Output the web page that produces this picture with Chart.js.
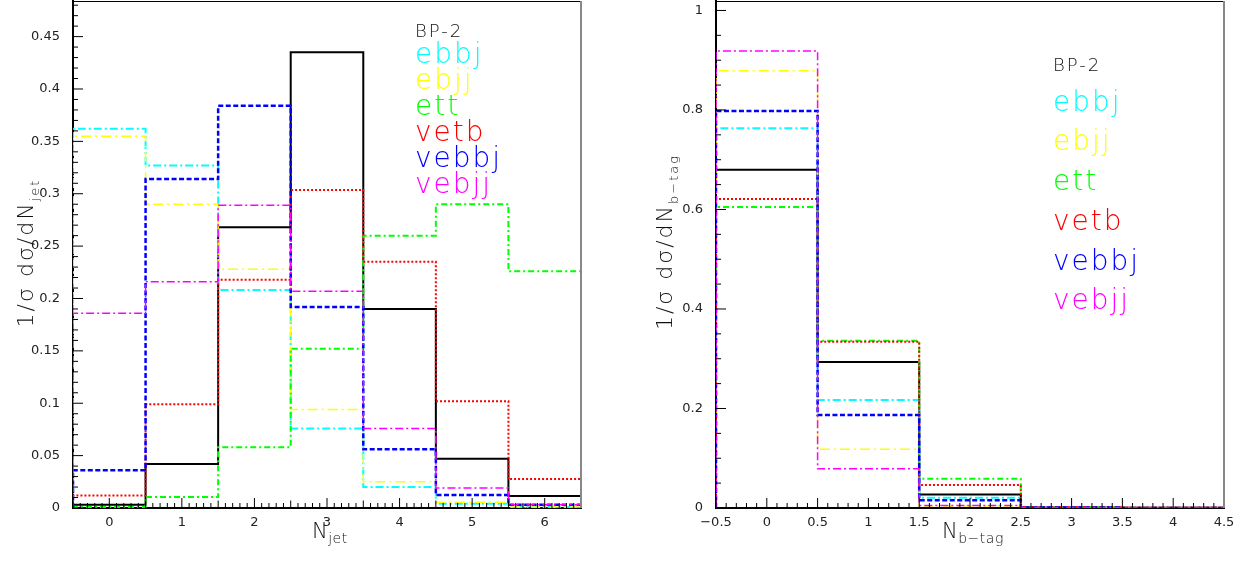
<!DOCTYPE html>
<html>
<head>
<meta charset="utf-8">
<script src="https://cdn.jsdelivr.net/npm/chart.js@4.4.0/dist/chart.umd.min.js"></script>
<style>
  html, body { margin: 0; padding: 0; background: #fff; }
  .panel { position: absolute; top: 0; width: 620px; height: 563px; }
  #p1 { left: 0; }
  #p2 { left: 625px; }
</style>
</head>
<body>
<div class="panel" id="p1"><canvas id="cJet" width="620" height="563"></canvas></div>
<div class="panel" id="p2"><canvas id="cTag" width="620" height="563"></canvas></div>
<script>
"use strict";

// --- data ---------------------------------------------------------------------
const SAMPLES = ["BP-2", "ebbj", "ebjj", "ett", "vetb", "vebbj", "vebjj"];

// N_jet (bin centres 0..6)
const jetBins  = [0, 1, 2, 3, 4, 5, 6];
const jetBP2   = [0.003, 0.042, 0.268, 0.435, 0.190, 0.047, 0.0114];
const jetEbbj  = [0.362, 0.327, 0.208, 0.076, 0.020, 0.004, 0.001];
const jetEbjj  = [0.355, 0.290, 0.228, 0.094, 0.025, 0.0054, 0.001];
const jetEtt   = [0.001, 0.0105, 0.058, 0.152, 0.260, 0.290, 0.226];
const jetVetb  = [0.012, 0.099, 0.218, 0.3035, 0.235, 0.102, 0.0276];
const jetVebbj = [0.036, 0.314, 0.384, 0.192, 0.056, 0.0124, 0.003];
const jetVebjj = [0.186, 0.216, 0.289, 0.207, 0.076, 0.019, 0.003];
const jetXTicks = [0, 1, 2, 3, 4, 5, 6];
const jetYTicks = [0, 0.05, 0.1, 0.15, 0.2, 0.25, 0.3, 0.35, 0.4, 0.45];

// N_b-tag (bin centres 0..4)
const tagBins  = [0, 1, 2, 3, 4];
const tagBP2   = [0.680, 0.2936, 0.027, 0.001, 0.0005];
const tagEbbj  = [0.763, 0.217, 0.0205, 0.001, 0];
const tagEbjj  = [0.879, 0.118, 0.004, 0.0005, 0];
const tagEtt   = [0.605, 0.336, 0.059, 0.002, 0];
const tagVetb  = [0.621, 0.334, 0.046, 0.002, 0.001];
const tagVebbj = [0.798, 0.187, 0.0157, 0.001, 0];
const tagVebjj = [0.9187, 0.0787, 0.005, 0.001, 0];
const tagXTicks = [-0.5, 0, 0.5, 1, 1.5, 2, 2.5, 3, 3.5, 4, 4.5];
const tagYTicks = [0, 0.2, 0.4, 0.6, 0.8, 1];

// --- styles -------------------------------------------------------------------
const STYLE = {
  "BP-2": { color: "#000000", width: 2,   dash: [] },
  ebbj:   { color: "#00ffff", width: 2,   dash: [8, 3, 2, 3] },
  ebjj:   { color: "#ffff00", width: 1.5, dash: [10, 4, 2, 4] },
  ett:    { color: "#00ff00", width: 2,   dash: [6, 3, 2, 3] },
  vetb:   { color: "#ff0000", width: 2,   dash: [2, 2] },
  vebbj:  { color: "#0000ff", width: 2.5, dash: [5, 2.5] },
  vebjj:  { color: "#ff00ff", width: 1.5, dash: [8, 3, 2, 3] }
};
const FONT = "'DejaVu Sans', 'Liberation Sans', sans-serif";

// histogram outline: points at bin edges; stepped 'before' = horizontal first
function histPoints(bins, vals) {
  const pts = [{ x: bins[0] - 0.5, y: 0 }];
  bins.forEach((b, i) => pts.push({ x: b + 0.5, y: vals[i] }));
  pts.push({ x: bins[bins.length - 1] + 0.5, y: 0 });
  return pts;
}
function mkDatasets(bins, series) {
  // ROOT draws BP-2 first; in Chart.js index 0 ends on top, so reverse
  return SAMPLES.map((name, i) => {
    const s = STYLE[name];
    return {
      label: name, data: histPoints(bins, series[i]),
      stepped: "after", borderColor: s.color, borderWidth: s.width,
      borderDash: s.dash, pointRadius: 0, fill: false, tension: 0
    };
  }).reverse();
}
function fmt(v) {
  const n = +(+v).toFixed(3);
  return (n < 0 ? "\u2212" : "") + String(Math.abs(n));
}

// --- ROOT-like frame, inner ticks, titles, text legend -------------------------
function innerTicks(ctx, scale, horiz, a, minor, medium, major) {
  const k0 = Math.ceil(scale.min / minor - 1e-6), k1 = Math.floor(scale.max / minor + 1e-6);
  ctx.beginPath();
  for (let k = k0; k <= k1; k++) {
    const v = k * minor;
    const isMaj = Math.abs(v / major - Math.round(v / major)) < 1e-6;
    const isMed = medium && Math.abs(v / medium - Math.round(v / medium)) < 1e-6;
    const len = isMaj ? 10 : (isMed ? 7.5 : 5);
    const p = scale.getPixelForValue(v);
    if (horiz) { ctx.moveTo(p, a.bottom); ctx.lineTo(p, a.bottom - len); }
    else { ctx.moveTo(a.left, p); ctx.lineTo(a.left + len, p); }
  }
  ctx.stroke();
}
function subText(ctx, main, sub, x, y, mainSize, subSize, spacing, center) {
  ctx.letterSpacing = spacing + "px";
  ctx.font = "200 " + mainSize + "px " + FONT;
  const w1 = ctx.measureText(main).width;
  ctx.font = "200 " + subSize + "px " + FONT;
  const w2 = ctx.measureText(sub).width;
  let x0 = center ? x - (w1 + w2) / 2 : x;
  ctx.font = "200 " + mainSize + "px " + FONT;
  ctx.fillText(main, x0, y);
  ctx.font = "200 " + subSize + "px " + FONT;
  ctx.fillText(sub, x0 + w1, y + mainSize * 0.25);
}
const rootFrame = {
  id: "rootFrame",
  afterDatasetsDraw(chart, args, o) {
    const { ctx, chartArea: a, scales: { x, y } } = chart;
    ctx.save();
    ctx.strokeStyle = "#000"; ctx.lineWidth = 1;
    innerTicks(ctx, x, true, a, o.xMinor, o.xMedium, o.xMajor);
    innerTicks(ctx, y, false, a, o.yMinor, 0, o.yMajor);
    ctx.beginPath(); ctx.moveTo(a.left, a.top + 0.5); ctx.lineTo(a.right, a.top + 0.5); ctx.stroke();
    ctx.strokeStyle = "#888"; ctx.lineWidth = 2;
    ctx.beginPath(); ctx.moveTo(a.right, a.top); ctx.lineTo(a.right, a.bottom); ctx.stroke();
    ctx.restore();
  },
  afterDraw(chart, args, o) {
    const ctx = chart.ctx;
    ctx.save();
    ctx.fillStyle = "#111"; ctx.textBaseline = "alphabetic";
    // x title
    subText(ctx, "N", o.xSub, o.xTitle[0], o.xTitle[1], 21, 14, 0.5, false);
    // y title (rotated)
    ctx.save();
    ctx.translate(o.yTitle[0], o.yTitle[1]);
    ctx.rotate(-Math.PI / 2);
    subText(ctx, "1/\u03c3 d\u03c3/dN", o.ySub, 0, 0, 22, 13, 2, true);
    ctx.restore();
    // text legend
    const lg = o.legend;
    SAMPLES.forEach((name, i) => {
      ctx.letterSpacing = i === 0 ? "2px" : "2px";
      ctx.font = "200 " + (i === 0 ? 18 : 28) + "px " + FONT;
      ctx.fillStyle = i === 0 ? "#111" : STYLE[name].color;
      ctx.fillText(name, lg.x, lg.y[i]);
    });
    ctx.restore();
  }
};

function mkChart(id, bins, series, xr, yr, xTicks, yTicks, yWidth, padRight, frame) {
  return new Chart(document.getElementById(id), {
    type: "line",
    data: { datasets: mkDatasets(bins, series) },
    plugins: [rootFrame],
    options: {
      responsive: false, animation: false,
      layout: { padding: { top: 1, right: padRight, left: 0, bottom: 0 }, autoPadding: false },
      plugins: { legend: { display: false }, tooltip: { enabled: false }, rootFrame: frame },
      scales: {
        x: {
          type: "linear", min: xr[0], max: xr[1],
          grid: { display: false, drawTicks: false },
          border: { display: true, color: "#000", width: 2 },
          ticks: { padding: 7, color: "#222", font: { family: FONT, size: 13 }, callback: fmt, maxRotation: 0 },
          afterBuildTicks: (s) => { s.ticks = xTicks.map((v) => ({ value: v })); },
          afterFit: (s) => { s.height = 55; s.paddingLeft = 0; s.paddingRight = 0; }
        },
        y: {
          type: "linear", min: yr[0], max: yr[1],
          grid: { display: false, drawTicks: false },
          border: { display: true, color: "#000", width: 2 },
          ticks: { padding: 13, color: "#222", font: { family: FONT, size: 13 }, callback: fmt },
          afterBuildTicks: (s) => { s.ticks = yTicks.map((v) => ({ value: v })); },
          afterFit: (s) => { s.width = yWidth; s.paddingTop = 0; s.paddingBottom = 0; }
        }
      }
    }
  });
}

mkChart("cJet", jetBins,
  [jetBP2, jetEbbj, jetEbjj, jetEtt, jetVetb, jetVebbj, jetVebjj],
  [-0.5, 6.5], [0, 0.484], jetXTicks, jetYTicks, 73, 39,
  { xMinor: 0.1, xMedium: 0.5, xMajor: 1, yMinor: 0.01, yMajor: 0.05,
    xSub: "jet", xTitle: [312, 538], ySub: "jet", yTitle: [33, 253],
    legend: { x: 415, y: [37, 63, 89, 115, 141, 167, 193] } });

mkChart("cTag", tagBins,
  [tagBP2, tagEbbj, tagEbjj, tagEtt, tagVetb, tagVebbj, tagVebjj],
  [-0.5, 4.5], [0, 1.019], tagXTicks, tagYTicks, 91, 21,
  { xMinor: 0.1, xMedium: 0, xMajor: 0.5, yMinor: 0.05, yMajor: 0.2,
    xSub: "b\u2212tag", xTitle: [317, 538], ySub: "b\u2212tag", yTitle: [47, 242],
    legend: { x: 428, y: [71, 111, 150, 190, 230, 270, 309] } });
</script>
</body>
</html>
